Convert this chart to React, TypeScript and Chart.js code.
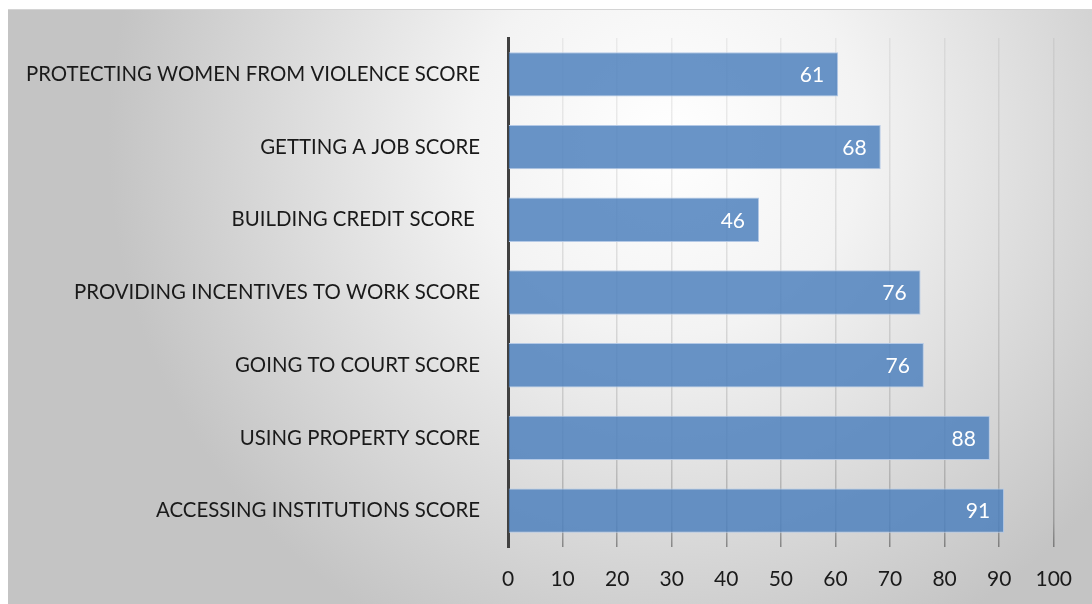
import React, { useEffect, useRef } from "react";
import { Chart, registerables } from "chart.js";

Chart.register(...registerables);

const categories = [
  "PROTECTING WOMEN FROM VIOLENCE SCORE",
  "GETTING A JOB SCORE",
  "BUILDING CREDIT SCORE ",
  "PROVIDING INCENTIVES TO WORK SCORE",
  "GOING TO COURT SCORE",
  "USING PROPERTY SCORE",
  "ACCESSING INSTITUTIONS SCORE",
];
const scores = [60.5, 68.3, 46.0, 75.6, 76.2, 88.3, 90.9];
const xTicks = [0, 10, 20, 30, 40, 50, 60, 70, 80, 90, 100];

const FONT = "Lato, 'Noto Sans', sans-serif";

const bgPlugin = {
  id: "bgPlugin",
  beforeDraw(chart: any) {
    const { ctx, width, height } = chart;
    ctx.save();
    const cx = 660, cy = 130, r = 560;
    ctx.translate(cx, cy);
    const g = ctx.createRadialGradient(0, 0, 0, 0, 0, r);
    g.addColorStop(0, "#ffffff");
    g.addColorStop(0.35, "#f3f3f3");
    g.addColorStop(1, "#c4c4c4");
    ctx.fillStyle = g;
    ctx.fillRect(-cx, -cy, width, height);
    ctx.restore();
    ctx.save();
    ctx.strokeStyle = "#d4d4d4";
    ctx.lineWidth = 1;
    ctx.beginPath();
    ctx.moveTo(0, 0.5);
    ctx.lineTo(width, 0.5);
    ctx.stroke();
    ctx.restore();
  },
};

const labelPlugin = {
  id: "labelPlugin",
  afterDatasetsDraw(chart: any) {
    const { ctx } = chart;
    const meta = chart.getDatasetMeta(0);
    ctx.save();
    ctx.fillStyle = "#ffffff";
    ctx.font = `21px ${FONT}`;
    ctx.textAlign = "right";
    ctx.textBaseline = "middle";
    meta.data.forEach((bar: any, i: number) => {
      const v = chart.data.datasets[0].data[i] as number;
      ctx.fillText(String(Math.round(v)), bar.x - 14, bar.y + 1);
    });
    ctx.restore();
  },
};

export default function App() {
  const ref = useRef<HTMLCanvasElement>(null);
  useEffect(() => {
    if (!ref.current) return;
    const chart = new Chart(ref.current, {
      type: "bar",
      data: {
        labels: categories,
        datasets: [
          {
            data: scores,
            backgroundColor: "rgba(79,129,189,0.85)",
            borderColor: "#b4c9e6",
            borderWidth: 1,
            categoryPercentage: 0.61,
            barPercentage: 1,
          },
        ],
      },
      options: {
        indexAxis: "y",
        animation: false,
        responsive: true,
        maintainAspectRatio: false,
        layout: { padding: { left: 0, top: 29, right: 33, bottom: 0 } },
        plugins: {
          legend: { display: false },
          tooltip: { enabled: false },
        },
        scales: {
          x: {
            min: 0,
            max: 100,
            afterBuildTicks(scale: any) {
              scale.ticks = xTicks.map((v) => ({ value: v }));
            },
            afterFit(scale: any) {
              scale.height = 57;
            },
            border: { display: false },
            grid: {
              drawTicks: false,
              lineWidth: 1.5,
              color(ctx: any) {
                if (ctx.tick && ctx.tick.value === 0) return "rgba(0,0,0,0)";
                const ca = ctx.chart.chartArea;
                if (!ca) return "rgba(0,0,0,0.12)";
                const g = ctx.chart.ctx.createLinearGradient(0, ca.top, 0, ca.bottom);
                g.addColorStop(0, "rgba(0,0,0,0.06)");
                g.addColorStop(0.8, "rgba(0,0,0,0.14)");
                g.addColorStop(0.95, "rgba(0,0,0,0.22)");
                g.addColorStop(1, "rgba(0,0,0,0.38)");
                return g;
              },
            },
            ticks: {
              padding: 20,
              color: "#1a1a1a",
              font: { family: FONT, size: 21 },
              maxRotation: 0,
              autoSkip: false,
            },
          },
          y: {
            afterFit(scale: any) {
              scale.width = 500;
            },
            border: { display: true, color: "#404040", width: 3 },
            grid: {
              display: false,
              drawTicks: true,
              tickLength: 28,
              tickColor: "rgba(0,0,0,0)",
            },
            ticks: {
              padding: 0,
              color: "#1a1a1a",
              font: { family: FONT, size: 20.4 },
              autoSkip: false,
            },
          },
        },
      },
      plugins: [bgPlugin, labelPlugin],
    });
    return () => chart.destroy();
  }, []);
  return (
    <div style={{ position: "fixed", left: 8, top: 9, width: 1084, height: 595 }}>
      <canvas ref={ref} />
    </div>
  );
}
